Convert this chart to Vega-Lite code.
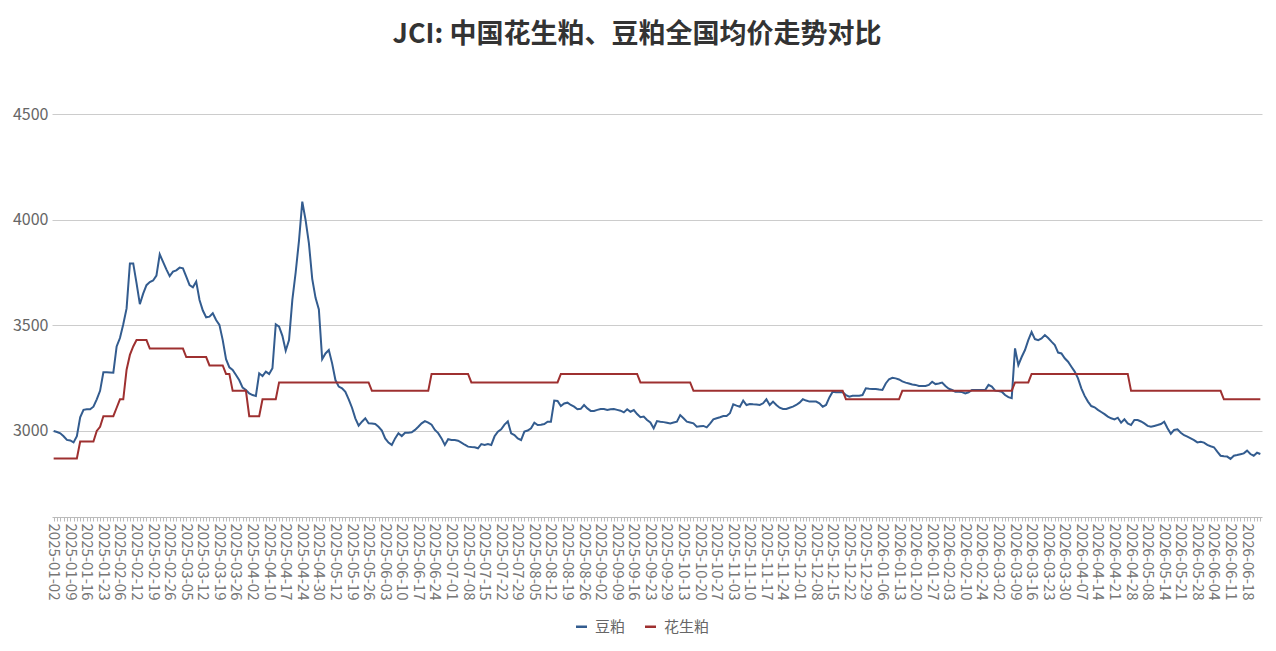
{
"$schema":"https://vega.github.io/schema/vega-lite/v6.json",
"width":1210,"height":403,
"autosize":{"type":"none"},
"padding":{"left":52,"top":114,"right":14,"bottom":134},
"background":"white",
"title":{"text":"JCI: 中国花生粕、豆粕全国均价走势对比","fontSize":27,"font":"Noto Sans CJK SC","fontWeight":"bold","color":"#333333","anchor":"middle","dx":-20,"offset":57},
"data":{"values":[
{"d":"2025-01-02","豆粕":3000,"花生粕":2870},{"d":"2025-01-03","豆粕":2995,"花生粕":2870},{"d":"2025-01-06","豆粕":2989,"花生粕":2870},{"d":"2025-01-07","豆粕":2975,"花生粕":2870},{"d":"2025-01-08","豆粕":2958,"花生粕":2870},{"d":"2025-01-09","豆粕":2955,"花生粕":2870},{"d":"2025-01-10","豆粕":2946,"花生粕":2870},{"d":"2025-01-13","豆粕":2975,"花生粕":2870},{"d":"2025-01-14","豆粕":3065,"花生粕":2950},{"d":"2025-01-15","豆粕":3100,"花生粕":2950},
{"d":"2025-01-16","豆粕":3103,"花生粕":2950},{"d":"2025-01-17","豆粕":3103,"花生粕":2950},{"d":"2025-01-20","豆粕":3115,"花生粕":2950},{"d":"2025-01-21","豆粕":3150,"花生粕":3000},{"d":"2025-01-22","豆粕":3190,"花生粕":3020},{"d":"2025-01-23","豆粕":3278,"花生粕":3070},{"d":"2025-01-24","豆粕":3278,"花生粕":3070},{"d":"2025-01-26","豆粕":3277,"花生粕":3070},{"d":"2025-01-27","豆粕":3276,"花生粕":3070},{"d":"2025-02-05","豆粕":3400,"花生粕":3110},
{"d":"2025-02-06","豆粕":3440,"花生粕":3150},{"d":"2025-02-07","豆粕":3505,"花生粕":3150},{"d":"2025-02-08","豆粕":3580,"花生粕":3290},{"d":"2025-02-10","豆粕":3793,"花生粕":3360},{"d":"2025-02-11","豆粕":3793,"花生粕":3400},{"d":"2025-02-12","豆粕":3700,"花生粕":3430},{"d":"2025-02-13","豆粕":3600,"花生粕":3430},{"d":"2025-02-14","豆粕":3650,"花生粕":3430},{"d":"2025-02-17","豆粕":3690,"花生粕":3430},{"d":"2025-02-18","豆粕":3705,"花生粕":3390},
{"d":"2025-02-19","豆粕":3712,"花生粕":3390},{"d":"2025-02-20","豆粕":3735,"花生粕":3390},{"d":"2025-02-21","豆粕":3836,"花生粕":3390},{"d":"2025-02-24","豆粕":3800,"花生粕":3390},{"d":"2025-02-25","豆粕":3765,"花生粕":3390},{"d":"2025-02-26","豆粕":3733,"花生粕":3390},{"d":"2025-02-27","豆粕":3754,"花生粕":3390},{"d":"2025-02-28","豆粕":3760,"花生粕":3390},{"d":"2025-03-03","豆粕":3773,"花生粕":3390},{"d":"2025-03-04","豆粕":3770,"花生粕":3390},
{"d":"2025-03-05","豆粕":3730,"花生粕":3350},{"d":"2025-03-06","豆粕":3690,"花生粕":3350},{"d":"2025-03-07","豆粕":3680,"花生粕":3350},{"d":"2025-03-10","豆粕":3707,"花生粕":3350},{"d":"2025-03-11","豆粕":3620,"花生粕":3350},{"d":"2025-03-12","豆粕":3570,"花生粕":3350},{"d":"2025-03-13","豆粕":3538,"花生粕":3350},{"d":"2025-03-14","豆粕":3541,"花生粕":3310},{"d":"2025-03-17","豆粕":3557,"花生粕":3310},{"d":"2025-03-18","豆粕":3525,"花生粕":3310},
{"d":"2025-03-19","豆粕":3502,"花生粕":3310},{"d":"2025-03-20","豆粕":3430,"花生粕":3310},{"d":"2025-03-21","豆粕":3340,"花生粕":3270},{"d":"2025-03-24","豆粕":3301,"花生粕":3270},{"d":"2025-03-25","豆粕":3289,"花生粕":3190},{"d":"2025-03-26","豆粕":3265,"花生粕":3190},{"d":"2025-03-27","豆粕":3240,"花生粕":3190},{"d":"2025-03-28","豆粕":3205,"花生粕":3190},{"d":"2025-03-31","豆粕":3194,"花生粕":3190},{"d":"2025-04-01","豆粕":3178,"花生粕":3070},
{"d":"2025-04-02","豆粕":3170,"花生粕":3070},{"d":"2025-04-03","豆粕":3166,"花生粕":3070},{"d":"2025-04-07","豆粕":3273,"花生粕":3070},{"d":"2025-04-08","豆粕":3260,"花生粕":3150},{"d":"2025-04-09","豆粕":3281,"花生粕":3150},{"d":"2025-04-10","豆粕":3270,"花生粕":3150},{"d":"2025-04-11","豆粕":3297,"花生粕":3150},{"d":"2025-04-14","豆粕":3505,"花生粕":3150},{"d":"2025-04-15","豆粕":3494,"花生粕":3230},{"d":"2025-04-16","豆粕":3450,"花生粕":3230},
{"d":"2025-04-17","豆粕":3380,"花生粕":3230},{"d":"2025-04-18","豆粕":3430,"花生粕":3230},{"d":"2025-04-21","豆粕":3620,"花生粕":3230},{"d":"2025-04-22","豆粕":3750,"花生粕":3230},{"d":"2025-04-23","豆粕":3900,"花生粕":3230},{"d":"2025-04-24","豆粕":4085,"花生粕":3230},{"d":"2025-04-25","豆粕":3998,"花生粕":3230},{"d":"2025-04-27","豆粕":3888,"花生粕":3230},{"d":"2025-04-28","豆粕":3720,"花生粕":3230},{"d":"2025-04-29","豆粕":3630,"花生粕":3230},
{"d":"2025-04-30","豆粕":3575,"花生粕":3230},{"d":"2025-05-06","豆粕":3340,"花生粕":3230},{"d":"2025-05-07","豆粕":3367,"花生粕":3230},{"d":"2025-05-08","豆粕":3383,"花生粕":3230},{"d":"2025-05-09","豆粕":3320,"花生粕":3230},{"d":"2025-05-12","豆粕":3241,"花生粕":3230},{"d":"2025-05-13","豆粕":3210,"花生粕":3230},{"d":"2025-05-14","豆粕":3202,"花生粕":3230},{"d":"2025-05-15","豆粕":3185,"花生粕":3230},{"d":"2025-05-16","豆粕":3150,"花生粕":3230},
{"d":"2025-05-19","豆粕":3110,"花生粕":3230},{"d":"2025-05-20","豆粕":3060,"花生粕":3230},{"d":"2025-05-21","豆粕":3025,"花生粕":3230},{"d":"2025-05-22","豆粕":3044,"花生粕":3230},{"d":"2025-05-23","豆粕":3060,"花生粕":3230},{"d":"2025-05-26","豆粕":3036,"花生粕":3230},{"d":"2025-05-27","豆粕":3035,"花生粕":3190},{"d":"2025-05-28","豆粕":3033,"花生粕":3190},{"d":"2025-05-29","豆粕":3020,"花生粕":3190},{"d":"2025-05-30","豆粕":3002,"花生粕":3190},
{"d":"2025-06-03","豆粕":2965,"花生粕":3190},{"d":"2025-06-04","豆粕":2945,"花生粕":3190},{"d":"2025-06-05","豆粕":2934,"花生粕":3190},{"d":"2025-06-06","豆粕":2965,"花生粕":3190},{"d":"2025-06-09","豆粕":2989,"花生粕":3190},{"d":"2025-06-10","豆粕":2976,"花生粕":3190},{"d":"2025-06-11","豆粕":2992,"花生粕":3190},{"d":"2025-06-12","豆粕":2992,"花生粕":3190},{"d":"2025-06-13","豆粕":2994,"花生粕":3190},{"d":"2025-06-16","豆粕":3005,"花生粕":3190},
{"d":"2025-06-17","豆粕":3020,"花生粕":3190},{"d":"2025-06-18","豆粕":3036,"花生粕":3190},{"d":"2025-06-19","豆粕":3047,"花生粕":3190},{"d":"2025-06-20","豆粕":3040,"花生粕":3190},{"d":"2025-06-23","豆粕":3030,"花生粕":3270},{"d":"2025-06-24","豆粕":3005,"花生粕":3270},{"d":"2025-06-25","豆粕":2990,"花生粕":3270},{"d":"2025-06-26","豆粕":2965,"花生粕":3270},{"d":"2025-06-27","豆粕":2934,"花生粕":3270},{"d":"2025-06-30","豆粕":2961,"花生粕":3270},
{"d":"2025-07-01","豆粕":2957,"花生粕":3270},{"d":"2025-07-02","豆粕":2957,"花生粕":3270},{"d":"2025-07-03","豆粕":2954,"花生粕":3270},{"d":"2025-07-04","豆粕":2945,"花生粕":3270},{"d":"2025-07-07","豆粕":2935,"花生粕":3270},{"d":"2025-07-08","豆粕":2926,"花生粕":3270},{"d":"2025-07-09","豆粕":2924,"花生粕":3230},{"d":"2025-07-10","豆粕":2923,"花生粕":3230},{"d":"2025-07-11","豆粕":2918,"花生粕":3230},{"d":"2025-07-14","豆粕":2938,"花生粕":3230},
{"d":"2025-07-15","豆粕":2934,"花生粕":3230},{"d":"2025-07-16","豆粕":2938,"花生粕":3230},{"d":"2025-07-17","豆粕":2934,"花生粕":3230},{"d":"2025-07-18","豆粕":2975,"花生粕":3230},{"d":"2025-07-21","豆粕":2997,"花生粕":3230},{"d":"2025-07-22","豆粕":3008,"花生粕":3230},{"d":"2025-07-23","豆粕":3030,"花生粕":3230},{"d":"2025-07-24","豆粕":3045,"花生粕":3230},{"d":"2025-07-25","豆粕":2989,"花生粕":3230},{"d":"2025-07-28","豆粕":2981,"花生粕":3230},
{"d":"2025-07-29","豆粕":2965,"花生粕":3230},{"d":"2025-07-30","豆粕":2957,"花生粕":3230},{"d":"2025-07-31","豆粕":2997,"花生粕":3230},{"d":"2025-08-01","豆粕":3002,"花生粕":3230},{"d":"2025-08-04","豆粕":3013,"花生粕":3230},{"d":"2025-08-05","豆粕":3039,"花生粕":3230},{"d":"2025-08-06","豆粕":3028,"花生粕":3230},{"d":"2025-08-07","豆粕":3030,"花生粕":3230},{"d":"2025-08-08","豆粕":3033,"花生粕":3230},{"d":"2025-08-11","豆粕":3044,"花生粕":3230},
{"d":"2025-08-12","豆粕":3044,"花生粕":3230},{"d":"2025-08-13","豆粕":3144,"花生粕":3230},{"d":"2025-08-14","豆粕":3142,"花生粕":3230},{"d":"2025-08-15","豆粕":3118,"花生粕":3270},{"d":"2025-08-18","豆粕":3130,"花生粕":3270},{"d":"2025-08-19","豆粕":3134,"花生粕":3270},{"d":"2025-08-20","豆粕":3123,"花生粕":3270},{"d":"2025-08-21","豆粕":3115,"花生粕":3270},{"d":"2025-08-22","豆粕":3103,"花生粕":3270},{"d":"2025-08-25","豆粕":3105,"花生粕":3270},
{"d":"2025-08-26","豆粕":3123,"花生粕":3270},{"d":"2025-08-27","豆粕":3107,"花生粕":3270},{"d":"2025-08-28","豆粕":3095,"花生粕":3270},{"d":"2025-08-29","豆粕":3095,"花生粕":3270},{"d":"2025-09-01","豆粕":3100,"花生粕":3270},{"d":"2025-09-02","豆粕":3104,"花生粕":3270},{"d":"2025-09-03","豆粕":3104,"花生粕":3270},{"d":"2025-09-04","豆粕":3099,"花生粕":3270},{"d":"2025-09-05","豆粕":3103,"花生粕":3270},{"d":"2025-09-08","豆粕":3104,"花生粕":3270},
{"d":"2025-09-09","豆粕":3100,"花生粕":3270},{"d":"2025-09-10","豆粕":3096,"花生粕":3270},{"d":"2025-09-11","豆粕":3088,"花生粕":3270},{"d":"2025-09-12","豆粕":3103,"花生粕":3270},{"d":"2025-09-15","豆粕":3091,"花生粕":3270},{"d":"2025-09-16","豆粕":3099,"花生粕":3270},{"d":"2025-09-17","豆粕":3080,"花生粕":3270},{"d":"2025-09-18","豆粕":3065,"花生粕":3230},{"d":"2025-09-19","豆粕":3068,"花生粕":3230},{"d":"2025-09-22","豆粕":3052,"花生粕":3230},
{"d":"2025-09-23","豆粕":3040,"花生粕":3230},{"d":"2025-09-24","豆粕":3013,"花生粕":3230},{"d":"2025-09-25","豆粕":3047,"花生粕":3230},{"d":"2025-09-26","豆粕":3044,"花生粕":3230},{"d":"2025-09-28","豆粕":3042,"花生粕":3230},{"d":"2025-09-29","豆粕":3039,"花生粕":3230},{"d":"2025-09-30","豆粕":3036,"花生粕":3230},{"d":"2025-10-09","豆粕":3040,"花生粕":3230},{"d":"2025-10-10","豆粕":3044,"花生粕":3230},{"d":"2025-10-11","豆粕":3075,"花生粕":3230},
{"d":"2025-10-13","豆粕":3060,"花生粕":3230},{"d":"2025-10-14","豆粕":3044,"花生粕":3230},{"d":"2025-10-15","豆粕":3040,"花生粕":3230},{"d":"2025-10-16","豆粕":3036,"花生粕":3190},{"d":"2025-10-17","豆粕":3020,"花生粕":3190},{"d":"2025-10-20","豆粕":3022,"花生粕":3190},{"d":"2025-10-21","豆粕":3024,"花生粕":3190},{"d":"2025-10-22","豆粕":3017,"花生粕":3190},{"d":"2025-10-23","豆粕":3035,"花生粕":3190},{"d":"2025-10-24","豆粕":3055,"花生粕":3190},
{"d":"2025-10-27","豆粕":3060,"花生粕":3190},{"d":"2025-10-28","豆粕":3065,"花生粕":3190},{"d":"2025-10-29","豆粕":3071,"花生粕":3190},{"d":"2025-10-30","豆粕":3071,"花生粕":3190},{"d":"2025-10-31","豆粕":3084,"花生粕":3190},{"d":"2025-11-03","豆粕":3126,"花生粕":3190},{"d":"2025-11-04","豆粕":3120,"花生粕":3190},{"d":"2025-11-05","豆粕":3115,"花生粕":3190},{"d":"2025-11-06","豆粕":3144,"花生粕":3190},{"d":"2025-11-07","豆粕":3123,"花生粕":3190},
{"d":"2025-11-10","豆粕":3128,"花生粕":3190},{"d":"2025-11-11","豆粕":3126,"花生粕":3190},{"d":"2025-11-12","豆粕":3125,"花生粕":3190},{"d":"2025-11-13","豆粕":3123,"花生粕":3190},{"d":"2025-11-14","豆粕":3131,"花生粕":3190},{"d":"2025-11-17","豆粕":3150,"花生粕":3190},{"d":"2025-11-18","豆粕":3123,"花生粕":3190},{"d":"2025-11-19","豆粕":3139,"花生粕":3190},{"d":"2025-11-20","豆粕":3123,"花生粕":3190},{"d":"2025-11-21","豆粕":3110,"花生粕":3190},
{"d":"2025-11-24","豆粕":3104,"花生粕":3190},{"d":"2025-11-25","豆粕":3104,"花生粕":3190},{"d":"2025-11-26","豆粕":3110,"花生粕":3190},{"d":"2025-11-27","豆粕":3115,"花生粕":3190},{"d":"2025-11-28","豆粕":3123,"花生粕":3190},{"d":"2025-12-01","豆粕":3134,"花生粕":3190},{"d":"2025-12-02","豆粕":3150,"花生粕":3190},{"d":"2025-12-03","豆粕":3144,"花生粕":3190},{"d":"2025-12-04","豆粕":3139,"花生粕":3190},{"d":"2025-12-05","豆粕":3139,"花生粕":3190},
{"d":"2025-12-08","豆粕":3139,"花生粕":3190},{"d":"2025-12-09","豆粕":3131,"花生粕":3190},{"d":"2025-12-10","豆粕":3115,"花生粕":3190},{"d":"2025-12-11","豆粕":3123,"花生粕":3190},{"d":"2025-12-12","豆粕":3159,"花生粕":3190},{"d":"2025-12-15","豆粕":3186,"花生粕":3190},{"d":"2025-12-16","豆粕":3183,"花生粕":3190},{"d":"2025-12-17","豆粕":3183,"花生粕":3190},{"d":"2025-12-18","豆粕":3183,"花生粕":3190},{"d":"2025-12-19","豆粕":3170,"花生粕":3150},
{"d":"2025-12-22","豆粕":3162,"花生粕":3150},{"d":"2025-12-23","豆粕":3167,"花生粕":3150},{"d":"2025-12-24","豆粕":3167,"花生粕":3150},{"d":"2025-12-25","豆粕":3167,"花生粕":3150},{"d":"2025-12-26","豆粕":3170,"花生粕":3150},{"d":"2025-12-29","豆粕":3202,"花生粕":3150},{"d":"2025-12-30","豆粕":3200,"花生粕":3150},{"d":"2025-12-31","豆粕":3199,"花生粕":3150},{"d":"2026-01-04","豆粕":3199,"花生粕":3150},{"d":"2026-01-05","豆粕":3196,"花生粕":3150},
{"d":"2026-01-06","豆粕":3194,"花生粕":3150},{"d":"2026-01-07","豆粕":3225,"花生粕":3150},{"d":"2026-01-08","豆粕":3245,"花生粕":3150},{"d":"2026-01-09","豆粕":3252,"花生粕":3150},{"d":"2026-01-12","豆粕":3249,"花生粕":3150},{"d":"2026-01-13","豆粕":3244,"花生粕":3150},{"d":"2026-01-14","豆粕":3235,"花生粕":3190},{"d":"2026-01-15","豆粕":3229,"花生粕":3190},{"d":"2026-01-16","豆粕":3225,"花生粕":3190},{"d":"2026-01-19","豆粕":3220,"花生粕":3190},
{"d":"2026-01-20","豆粕":3218,"花生粕":3190},{"d":"2026-01-21","豆粕":3213,"花生粕":3190},{"d":"2026-01-22","豆粕":3213,"花生粕":3190},{"d":"2026-01-23","豆粕":3213,"花生粕":3190},{"d":"2026-01-26","豆粕":3218,"花生粕":3190},{"d":"2026-01-27","豆粕":3233,"花生粕":3190},{"d":"2026-01-28","豆粕":3222,"花生粕":3190},{"d":"2026-01-29","豆粕":3225,"花生粕":3190},{"d":"2026-01-30","豆粕":3229,"花生粕":3190},{"d":"2026-02-02","豆粕":3213,"花生粕":3190},
{"d":"2026-02-03","豆粕":3200,"花生粕":3190},{"d":"2026-02-04","豆粕":3194,"花生粕":3190},{"d":"2026-02-05","豆粕":3186,"花生粕":3190},{"d":"2026-02-06","豆粕":3186,"花生粕":3190},{"d":"2026-02-09","豆粕":3184,"花生粕":3190},{"d":"2026-02-10","豆粕":3178,"花生粕":3190},{"d":"2026-02-11","豆粕":3183,"花生粕":3190},{"d":"2026-02-12","豆粕":3194,"花生粕":3190},{"d":"2026-02-13","豆粕":3194,"花生粕":3190},{"d":"2026-02-14","豆粕":3194,"花生粕":3190},
{"d":"2026-02-24","豆粕":3194,"花生粕":3190},{"d":"2026-02-25","豆粕":3194,"花生粕":3190},{"d":"2026-02-26","豆粕":3218,"花生粕":3190},{"d":"2026-02-27","豆粕":3210,"花生粕":3190},{"d":"2026-02-28","豆粕":3191,"花生粕":3190},{"d":"2026-03-02","豆粕":3189,"花生粕":3190},{"d":"2026-03-03","豆粕":3186,"花生粕":3190},{"d":"2026-03-04","豆粕":3170,"花生粕":3190},{"d":"2026-03-05","豆粕":3160,"花生粕":3190},{"d":"2026-03-06","豆粕":3155,"花生粕":3190},
{"d":"2026-03-09","豆粕":3391,"花生粕":3230},{"d":"2026-03-10","豆粕":3312,"花生粕":3230},{"d":"2026-03-11","豆粕":3350,"花生粕":3230},{"d":"2026-03-12","豆粕":3383,"花生粕":3230},{"d":"2026-03-13","豆粕":3430,"花生粕":3230},{"d":"2026-03-16","豆粕":3468,"花生粕":3270},{"d":"2026-03-17","豆粕":3435,"花生粕":3270},{"d":"2026-03-18","豆粕":3430,"花生粕":3270},{"d":"2026-03-19","豆粕":3438,"花生粕":3270},{"d":"2026-03-20","豆粕":3454,"花生粕":3270},
{"d":"2026-03-23","豆粕":3440,"花生粕":3270},{"d":"2026-03-24","豆粕":3423,"花生粕":3270},{"d":"2026-03-25","豆粕":3407,"花生粕":3270},{"d":"2026-03-26","豆粕":3371,"花生粕":3270},{"d":"2026-03-27","豆粕":3367,"花生粕":3270},{"d":"2026-03-30","豆粕":3344,"花生粕":3270},{"d":"2026-03-31","豆粕":3328,"花生粕":3270},{"d":"2026-04-01","豆粕":3304,"花生粕":3270},{"d":"2026-04-02","豆粕":3281,"花生粕":3270},{"d":"2026-04-03","豆粕":3249,"花生粕":3270},
{"d":"2026-04-07","豆粕":3202,"花生粕":3270},{"d":"2026-04-08","豆粕":3166,"花生粕":3270},{"d":"2026-04-09","豆粕":3139,"花生粕":3270},{"d":"2026-04-10","豆粕":3118,"花生粕":3270},{"d":"2026-04-13","豆粕":3112,"花生粕":3270},{"d":"2026-04-14","豆粕":3100,"花生粕":3270},{"d":"2026-04-15","豆粕":3090,"花生粕":3270},{"d":"2026-04-16","豆粕":3080,"花生粕":3270},{"d":"2026-04-17","豆粕":3068,"花生粕":3270},{"d":"2026-04-20","豆粕":3060,"花生粕":3270},
{"d":"2026-04-21","豆粕":3055,"花生粕":3270},{"d":"2026-04-22","豆粕":3063,"花生粕":3270},{"d":"2026-04-23","豆粕":3039,"花生粕":3270},{"d":"2026-04-24","豆粕":3055,"花生粕":3270},{"d":"2026-04-27","豆粕":3036,"花生粕":3270},{"d":"2026-04-28","豆粕":3028,"花生粕":3190},{"d":"2026-04-29","豆粕":3052,"花生粕":3190},{"d":"2026-04-30","豆粕":3052,"花生粕":3190},{"d":"2026-05-06","豆粕":3045,"花生粕":3190},{"d":"2026-05-07","豆粕":3036,"花生粕":3190},
{"d":"2026-05-08","豆粕":3024,"花生粕":3190},{"d":"2026-05-09","豆粕":3020,"花生粕":3190},{"d":"2026-05-11","豆粕":3024,"花生粕":3190},{"d":"2026-05-12","豆粕":3028,"花生粕":3190},{"d":"2026-05-13","豆粕":3033,"花生粕":3190},{"d":"2026-05-14","豆粕":3044,"花生粕":3190},{"d":"2026-05-15","豆粕":3013,"花生粕":3190},{"d":"2026-05-18","豆粕":2987,"花生粕":3190},{"d":"2026-05-19","豆粕":3005,"花生粕":3190},{"d":"2026-05-20","豆粕":3008,"花生粕":3190},
{"d":"2026-05-21","豆粕":2992,"花生粕":3190},{"d":"2026-05-22","豆粕":2980,"花生粕":3190},{"d":"2026-05-25","豆粕":2973,"花生粕":3190},{"d":"2026-05-26","豆粕":2965,"花生粕":3190},{"d":"2026-05-27","豆粕":2957,"花生粕":3190},{"d":"2026-05-28","豆粕":2946,"花生粕":3190},{"d":"2026-05-29","豆粕":2949,"花生粕":3190},{"d":"2026-06-01","豆粕":2945,"花生粕":3190},{"d":"2026-06-02","豆粕":2934,"花生粕":3190},{"d":"2026-06-03","豆粕":2928,"花生粕":3190},
{"d":"2026-06-04","豆粕":2923,"花生粕":3190},{"d":"2026-06-05","豆粕":2902,"花生粕":3190},{"d":"2026-06-08","豆粕":2883,"花生粕":3190},{"d":"2026-06-09","豆粕":2880,"花生粕":3150},{"d":"2026-06-10","豆粕":2879,"花生粕":3150},{"d":"2026-06-11","豆粕":2868,"花生粕":3150},{"d":"2026-06-12","豆粕":2883,"花生粕":3150},{"d":"2026-06-15","豆粕":2886,"花生粕":3150},{"d":"2026-06-16","豆粕":2890,"花生粕":3150},{"d":"2026-06-17","豆粕":2894,"花生粕":3150},
{"d":"2026-06-18","豆粕":2907,"花生粕":3150},{"d":"2026-06-22","豆粕":2891,"花生粕":3150},{"d":"2026-06-23","豆粕":2883,"花生粕":3150},{"d":"2026-06-24","豆粕":2897,"花生粕":3150},{"d":"2026-06-25","豆粕":2891,"花生粕":3150}
]},
"transform":[{"fold":["豆粕","花生粕"],"as":["品种","价格"]}],
"mark":{"type":"line","strokeWidth":2},
"encoding":{
"x":{"field":"d","type":"ordinal","sort":"ascending","scale":{"type":"point","padding":0.5},
"axis":{"title":null,"labelAngle":90,"labelFont":"Noto Sans CJK SC","labelFontSize":15,"labelColor":"#777777","labelPadding":2,"tickSize":4,"tickColor":"#bbbbbb","domainColor":"#bbbbbb","labelOverlap":false,"labelBound":false,"labelFlush":false,"grid":false,
"labelExpr":"round(datum.index*364) % 5 == 0 ? datum.label : ''"}},
"y":{"field":"价格","type":"quantitative","scale":{"domain":[2593,4500],"nice":false,"zero":false},
"axis":{"title":null,"values":[3000,3500,4000,4500],"format":"d","ticks":false,"domain":false,"labelFont":"Noto Sans CJK SC","labelFontSize":16,"labelColor":"#666666","labelPadding":4,"gridColor":"#cccccc","gridWidth":1}},
"color":{"field":"品种","type":"nominal","scale":{"domain":["豆粕","花生粕"],"range":["#335c8f","#9e3030"]},
"legend":{"title":null,"orient":"none","legendX":522,"legendY":505,"direction":"horizontal","symbolType":"stroke","symbolSize":121,"symbolStrokeWidth":2.5,"labelFont":"Noto Sans CJK SC","labelFontSize":15,"labelColor":"#666666","columnPadding":14,"labelOffset":6,"padding":0}}
},
"config":{"view":{"stroke":null},"font":"Noto Sans CJK SC"}
}
